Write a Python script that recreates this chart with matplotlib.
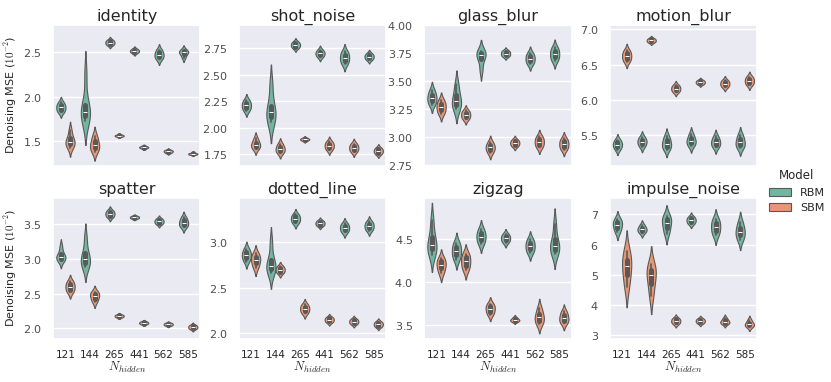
import pandas as pd
import matplotlib
matplotlib.use('Agg')
import matplotlib.pyplot as plt
import seaborn as sns
from matplotlib.ticker import MultipleLocator

n_hidden = ['121', '144', '265', '441', '562', '585']
models = ['RBM', 'SBM']
corruptions = ['identity', 'shot_noise', 'glass_blur', 'motion_blur',
               'spatter', 'dotted_line', 'zigzag', 'impulse_noise']

# denoising MSE samples (x 1e-2), one list per n_hidden
identity_rbm = [[1.825, 1.85, 1.88, 1.905, 1.935], [1.72, 1.78, 1.81, 1.85, 1.92, 2.25],
                [2.58, 2.595, 2.61, 2.625, 2.64], [2.49, 2.505, 2.515, 2.525, 2.54],
                [2.42, 2.45, 2.47, 2.50, 2.53], [2.44, 2.48, 2.50, 2.51, 2.53]]
identity_sbm = [[1.42, 1.46, 1.48, 1.50, 1.54, 1.62], [1.38, 1.42, 1.45, 1.50, 1.56],
                [1.548, 1.555, 1.56, 1.565, 1.572], [1.415, 1.425, 1.43, 1.435, 1.445],
                [1.365, 1.375, 1.385, 1.39, 1.40], [1.345, 1.35, 1.355, 1.36, 1.365]]
shot_noise_rbm = [[2.16, 2.185, 2.21, 2.235, 2.26], [2.05, 2.10, 2.15, 2.20, 2.40],
                  [2.75, 2.765, 2.78, 2.795, 2.81], [2.665, 2.685, 2.70, 2.715, 2.735],
                  [2.60, 2.63, 2.66, 2.69, 2.72], [2.64, 2.655, 2.67, 2.685, 2.70]]
shot_noise_sbm = [[1.80, 1.82, 1.84, 1.86, 1.90], [1.76, 1.78, 1.80, 1.82, 1.85],
                  [1.875, 1.885, 1.89, 1.895, 1.905], [1.79, 1.81, 1.83, 1.85, 1.87],
                  [1.77, 1.79, 1.81, 1.83, 1.85], [1.75, 1.765, 1.78, 1.795, 1.81]]
glass_blur_rbm = [[3.29, 3.32, 3.35, 3.38, 3.42], [3.25, 3.29, 3.32, 3.38, 3.47],
                  [3.60, 3.70, 3.73, 3.75, 3.77], [3.72, 3.73, 3.745, 3.76, 3.77],
                  [3.65, 3.675, 3.70, 3.725, 3.75], [3.68, 3.71, 3.74, 3.77, 3.80]]
glass_blur_sbm = [[3.21, 3.24, 3.27, 3.30, 3.33], [3.16, 3.18, 3.20, 3.22, 3.24],
                  [2.86, 2.89, 2.91, 2.93, 2.96], [2.92, 2.935, 2.95, 2.965, 2.98],
                  [2.91, 2.935, 2.96, 2.985, 3.01], [2.89, 2.915, 2.94, 2.965, 2.99]]
motion_blur_rbm = [[5.30, 5.34, 5.37, 5.40, 5.44], [5.34, 5.38, 5.41, 5.44, 5.48],
                   [5.30, 5.34, 5.38, 5.43, 5.49], [5.35, 5.39, 5.42, 5.46, 5.52],
                   [5.33, 5.37, 5.40, 5.44, 5.49], [5.32, 5.36, 5.40, 5.45, 5.51]]
motion_blur_sbm = [[6.54, 6.58, 6.62, 6.66, 6.70], [6.81, 6.825, 6.84, 6.855, 6.87],
                   [6.11, 6.135, 6.16, 6.185, 6.21], [6.22, 6.235, 6.25, 6.265, 6.28],
                   [6.18, 6.205, 6.23, 6.255, 6.28], [6.21, 6.24, 6.27, 6.30, 6.33]]
spatter_rbm = [[2.97, 3.00, 3.02, 3.04, 3.08, 3.18], [2.88, 2.93, 2.97, 3.02, 3.10, 3.30],
               [3.60, 3.625, 3.65, 3.675, 3.70], [3.58, 3.59, 3.60, 3.61, 3.62],
               [3.50, 3.52, 3.54, 3.56, 3.58], [3.46, 3.49, 3.52, 3.56, 3.60]]
spatter_sbm = [[2.52, 2.56, 2.60, 2.64, 2.68], [2.38, 2.43, 2.47, 2.50, 2.53],
               [2.16, 2.17, 2.18, 2.19, 2.20], [2.06, 2.07, 2.08, 2.09, 2.10],
               [2.04, 2.05, 2.06, 2.07, 2.08], [1.99, 2.005, 2.02, 2.035, 2.05]]
dotted_line_rbm = [[2.79, 2.83, 2.86, 2.89, 2.93], [2.66, 2.70, 2.73, 2.76, 2.82, 3.00],
                   [3.21, 3.235, 3.26, 3.285, 3.31], [3.18, 3.195, 3.21, 3.225, 3.24],
                   [3.11, 3.135, 3.16, 3.185, 3.21], [3.13, 3.155, 3.18, 3.205, 3.23]]
dotted_line_sbm = [[2.72, 2.77, 2.81, 2.84, 2.88], [2.66, 2.68, 2.70, 2.72, 2.74],
                   [2.22, 2.245, 2.27, 2.295, 2.32], [2.12, 2.135, 2.15, 2.165, 2.18],
                   [2.10, 2.115, 2.13, 2.145, 2.16], [2.07, 2.085, 2.10, 2.115, 2.13]]
zigzag_rbm = [[4.32, 4.37, 4.41, 4.46, 4.55, 4.72], [4.26, 4.31, 4.36, 4.41, 4.46],
              [4.44, 4.49, 4.53, 4.57, 4.62], [4.46, 4.485, 4.51, 4.535, 4.56],
              [4.34, 4.38, 4.42, 4.46, 4.50], [4.33, 4.37, 4.40, 4.44, 4.52, 4.68]]
zigzag_sbm = [[4.10, 4.16, 4.20, 4.24, 4.28], [4.14, 4.19, 4.24, 4.29, 4.33],
              [3.62, 3.655, 3.69, 3.72, 3.75], [3.54, 3.55, 3.56, 3.57, 3.59],
              [3.51, 3.55, 3.59, 3.63, 3.70], [3.52, 3.55, 3.58, 3.62, 3.66]]
impulse_noise_rbm = [[6.40, 6.55, 6.65, 6.75, 6.85], [6.38, 6.45, 6.50, 6.56, 6.65],
                     [6.35, 6.55, 6.72, 6.85, 6.95], [6.68, 6.74, 6.80, 6.86, 6.92],
                     [6.30, 6.45, 6.58, 6.72, 6.85], [6.15, 6.30, 6.42, 6.55, 6.75]]
impulse_noise_sbm = [[4.6, 5.0, 5.3, 5.5, 5.8], [4.3, 4.7, 5.0, 5.15, 5.35],
                     [3.38, 3.43, 3.48, 3.53, 3.58], [3.40, 3.44, 3.48, 3.52, 3.56],
                     [3.38, 3.42, 3.45, 3.50, 3.58], [3.28, 3.33, 3.37, 3.42, 3.52]]

samples = {
    'identity': (identity_rbm, identity_sbm),
    'shot_noise': (shot_noise_rbm, shot_noise_sbm),
    'glass_blur': (glass_blur_rbm, glass_blur_sbm),
    'motion_blur': (motion_blur_rbm, motion_blur_sbm),
    'spatter': (spatter_rbm, spatter_sbm),
    'dotted_line': (dotted_line_rbm, dotted_line_sbm),
    'zigzag': (zigzag_rbm, zigzag_sbm),
    'impulse_noise': (impulse_noise_rbm, impulse_noise_sbm),
}

ylims = {'identity': (1.22, 2.81), 'shot_noise': (1.64, 2.97),
         'glass_blur': (2.747, 4.0), 'motion_blur': (5.07, 7.06),
         'spatter': (1.85, 3.88), 'dotted_line': (1.94, 3.49),
         'zigzag': (3.34, 4.98), 'impulse_noise': (2.89, 7.54)}
ysteps = {'identity': 0.5, 'shot_noise': 0.25, 'glass_blur': 0.25,
          'motion_blur': 0.5, 'spatter': 0.5, 'dotted_line': 0.5,
          'zigzag': 0.5, 'impulse_noise': 1}

rows = []
for c in corruptions:
    for m, per_n in zip(models, samples[c]):
        for n, vals in zip(n_hidden, per_n):
            for v in vals:
                rows.append((c, n, m, v))
df = pd.DataFrame(rows, columns=['corruption', 'n_hidden', 'model', 'mse'])

sns.set_theme(style='darkgrid')
plt.rcParams['font.family'] = ['DejaVu Sans']
plt.rcParams['mathtext.fontset'] = 'cm'
plt.rcParams['axes.formatter.use_mathtext'] = True

fig, axes = plt.subplots(2, 4, figsize=(8.31, 3.82), dpi=100)
fig.subplots_adjust(left=0.064, right=0.911, top=0.935, bottom=0.113,
                    wspace=0.26, hspace=0.227)

for i, (ax, c) in enumerate(zip(axes.flat, corruptions)):
    sub = df[df.corruption == c]
    sns.violinplot(data=sub, x='n_hidden', y='mse', hue='model',
                   order=n_hidden, hue_order=models, palette='Set2',
                   inner='box', density_norm='width', linewidth=0.8,
                   width=0.75, ax=ax, legend=(i == 0))
    ax.set_title(c, fontsize=11.5, pad=3)
    ax.set_ylim(*ylims[c])
    ax.yaxis.set_major_locator(MultipleLocator(ysteps[c]))
    ax.tick_params(axis='y', labelsize=8, pad=2, labelcolor='.3')
    ax.tick_params(axis='x', labelsize=7.5, pad=2)
    if i < 4:
        ax.set_xticklabels([])
        ax.set_xlabel('')
    else:
        ax.set_xlabel(r'$N_{hidden}$', fontsize=9, labelpad=0)
    if i % 4 == 0:
        ax.set_ylabel(r'Denoising MSE ($10^{-2}$)', fontsize=8, labelpad=3)
    else:
        ax.set_ylabel('')

handles, labels = axes[0, 0].get_legend_handles_labels()
axes[0, 0].get_legend().remove()
fig.legend(handles, labels, title='Model', loc='center left',
           bbox_to_anchor=(0.913, 0.5), frameon=False, fontsize=8,
           title_fontsize=8.5)

fig.savefig('out.png', dpi=100)
